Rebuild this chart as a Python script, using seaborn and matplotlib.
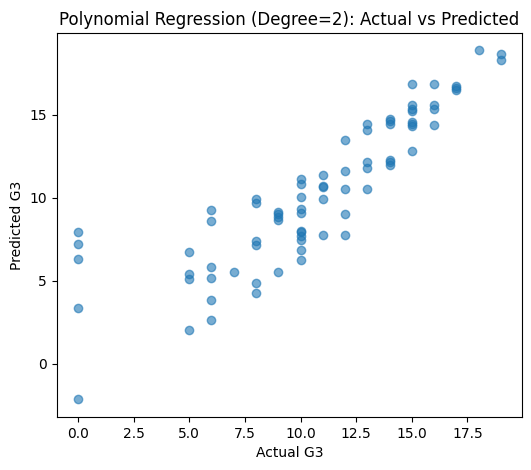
import matplotlib
matplotlib.use("Agg")
import matplotlib.pyplot as plt
import seaborn as sns
import pandas as pd

# actual G3 grades and model predictions
actual = [0, 0, 0, 0, 0,
          5, 5, 5, 5,
          6, 6, 6, 6, 6, 6,
          7,
          8, 8, 8, 8, 8, 8,
          9, 9, 9, 9, 9,
          10, 10, 10, 10, 10, 10, 10, 10, 10, 10, 10,
          11, 11, 11, 11, 11,
          12, 12, 12, 12, 12,
          13, 13, 13, 13, 13,
          14, 14, 14, 14, 14, 14,
          15, 15, 15, 15, 15, 15, 15, 15,
          16, 16, 16, 16,
          17, 17, 17,
          18,
          19, 19]
predicted = [7.94, 7.22, 6.30, 3.36, -2.14,
             6.74, 5.42, 5.10, 2.06,
             9.24, 8.58, 5.84, 5.16, 3.86, 2.64,
             5.54,
             9.90, 9.68, 7.38, 7.16, 4.86, 4.26,
             9.12, 9.02, 8.85, 8.66, 5.54,
             11.10, 10.80, 10.04, 9.34, 9.10, 7.98, 7.92, 7.70, 7.46, 6.84, 6.26,
             11.34, 10.70, 10.66, 9.90, 7.76,
             13.46, 11.58, 10.50, 9.02, 7.76,
             14.42, 14.06, 12.12, 11.76, 10.50,
             14.76, 14.60, 14.42, 12.26, 12.16, 11.94,
             16.86, 15.56, 15.36, 15.20, 14.55, 14.42, 14.30, 12.80,
             16.82, 15.56, 15.36, 14.34,
             16.70, 16.60, 16.50,
             18.86,
             18.66, 18.30]

df = pd.DataFrame({"Actual G3": actual, "Predicted G3": predicted})

fig, ax = plt.subplots(figsize=(5.31, 4.70), dpi=100)
fig.subplots_adjust(left=0.107, right=0.983, top=0.930, bottom=0.113)

sns.scatterplot(data=df, x="Actual G3", y="Predicted G3", ax=ax,
                color="#1f77b4", alpha=0.6, s=36,
                edgecolor="#1f77b4", linewidth=1.0)

ax.set_title("Polynomial Regression (Degree=2): Actual vs Predicted")
ax.set_xlabel("Actual G3")
ax.set_ylabel("Predicted G3")

plt.savefig("out.png", dpi=100)
